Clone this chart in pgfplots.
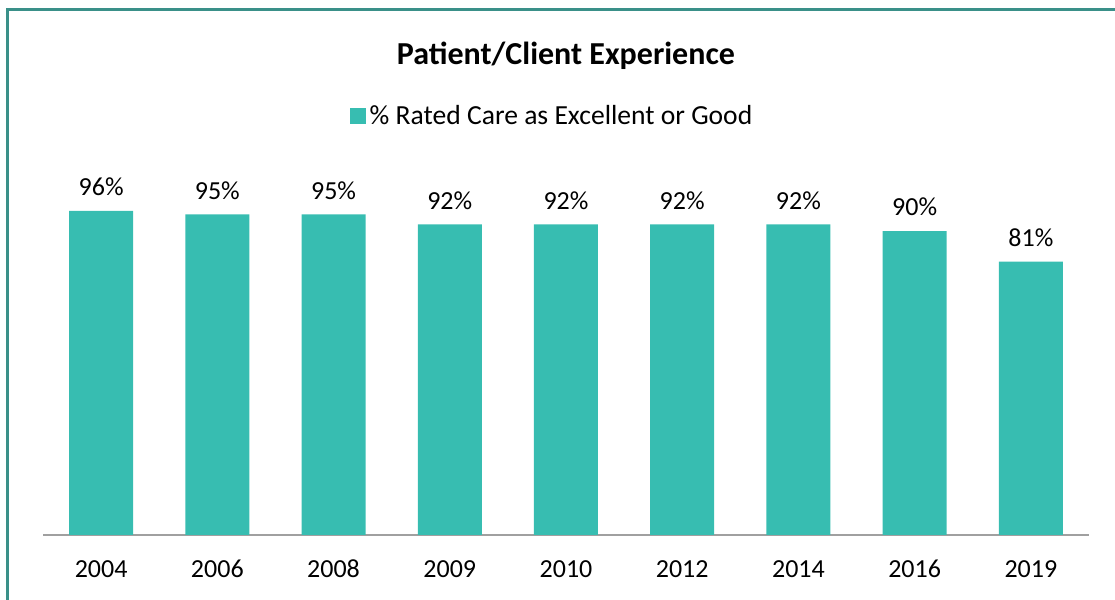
\documentclass[border=0pt]{standalone}
\usepackage{fontspec}
\setmainfont{Carlito}
\usepackage{pgfplots}
\pgfplotsset{compat=1.18}
\definecolor{barTeal}{HTML}{37BDB1}
\definecolor{frameTeal}{HTML}{3A9089}
\definecolor{axGrey}{HTML}{A0A0A0}
\begin{document}
\begin{tikzpicture}
\draw[frameTeal, line width=1.5pt] (3.5pt,-10pt) -- (3.5pt,295pt) -- (570pt,295pt);
\begin{axis}[
  at={(21.5pt,32.5pt)}, anchor=south west,
  scale only axis, width=523pt, height=168.75pt,
  xmin=-0.5, xmax=8.5, ymin=0, ymax=100,
  ybar, bar width=32pt,
  axis line style={axGrey, line width=1pt},
  axis x line*=bottom, axis y line=none,
  xtick=data, xticklabels={2004,2006,2008,2009,2010,2012,2014,2016,2019},
  major tick length=0pt,
  xticklabel style={font=\fontsize{13}{15}\selectfont, text height=9pt, text depth=0pt, yshift=-8.5pt},
  /pgf/number format/assume math mode=true,
  nodes near coords={\pgfmathprintnumber{\pgfplotspointmeta}\%},
  every node near coord/.append style={font=\fontsize{13}{15}\selectfont, yshift=4pt},
  clip=false,
  title={\bfseries Patient/Client Experience},
  title style={at={(rel axis cs:0.5,1.383)}, anchor=center, font=\fontsize{16}{19}\selectfont},
  legend style={at={(rel axis cs:0.4876,1.2415)}, anchor=center, draw=none,
    font=\fontsize{13.8}{16}\selectfont, inner sep=0pt},
  legend image code/.code={\fill[barTeal] (0pt,-4pt) rectangle (8pt,4pt);},
]
\addplot[fill=barTeal, draw=none] coordinates
  {(0,96) (1,95) (2,95) (3,92) (4,92) (5,92) (6,92) (7,90) (8,81)};
\legend{\% Rated Care as Excellent or Good}
\end{axis}
\pgfresetboundingbox
\useasboundingbox (0,0) rectangle (557.5pt,300pt);
\end{tikzpicture}
\end{document}
